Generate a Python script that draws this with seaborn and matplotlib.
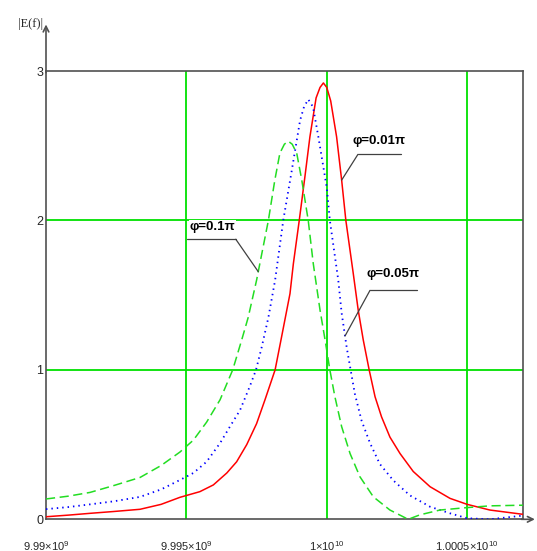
import numpy as np
import pandas as pd
import matplotlib
matplotlib.use("Agg")
import matplotlib.pyplot as plt
import seaborn as sns

# =========================
# Data
# frequency offsets in MHz from 9.99e9 Hz
# =========================

F0 = 9.99e9

red_off = [0.0, 0.8, 1.57, 2.4, 3.35, 4.1, 4.77, 5.48, 5.96, 6.44, 6.79,
           7.15, 7.50, 7.80, 8.16, 8.39, 8.69, 8.81, 9.02, 9.22, 9.40, 9.62,
           9.76, 9.88, 10.00, 10.14, 10.35, 10.53, 10.68, 10.94, 11.12, 11.30,
           11.51, 11.72, 11.95, 12.25, 12.61, 13.08, 13.68, 14.39, 15.00,
           15.81, 17.0]
red_y = [0.017, 0.028, 0.04, 0.052, 0.067, 0.10, 0.147, 0.185, 0.23, 0.31,
         0.385, 0.50, 0.64, 0.80, 1.0, 1.22, 1.51, 1.71, 2.0, 2.29, 2.56,
         2.82, 2.89, 2.92, 2.89, 2.80, 2.56, 2.27, 2.0, 1.65, 1.40, 1.20,
         1.0, 0.82, 0.686, 0.55, 0.44, 0.32, 0.218, 0.14, 0.10,
         0.062, 0.033]

blue_off = [0.0, 0.8, 1.57, 2.4, 3.35, 4.1, 4.77, 5.25, 5.72, 6.20, 6.55,
            6.91, 7.26, 7.48, 7.68, 7.92, 8.16, 8.45, 8.75, 9.05, 9.19, 9.34,
            9.51, 9.70, 10.00, 10.11, 10.41, 10.53, 10.71, 10.85, 11.00,
            11.24, 11.54, 11.89, 12.37, 12.96, 13.68, 14.39, 15.00, 15.81,
            17.0]
blue_y = [0.068, 0.082, 0.10, 0.12, 0.15, 0.20, 0.263, 0.31, 0.385, 0.51,
          0.62, 0.73, 0.89, 1.0, 1.15, 1.35, 1.60, 2.0, 2.33, 2.67, 2.76,
          2.81, 2.76, 2.56, 2.22, 2.0, 1.60, 1.38, 1.15, 1.0, 0.84,
          0.66, 0.51, 0.37, 0.26, 0.16, 0.084, 0.04, 0.007, 0.0,
          0.025]

green_off = [0.0, 0.8, 1.57, 2.4, 3.35, 4.1, 4.77, 5.25, 5.72, 6.20, 6.65,
             6.97, 7.20, 7.50, 7.92, 8.15, 8.33, 8.49, 8.63, 8.77, 8.93,
             9.11, 9.34, 9.52, 9.76, 9.94, 10.11, 10.29, 10.53, 10.83, 11.18,
             11.66, 12.25, 12.90, 13.32, 14.03, 14.98, 15.81, 16.88, 17.0]
green_y = [0.136, 0.155, 0.18, 0.225, 0.28, 0.36, 0.45, 0.53, 0.65, 0.80,
           1.0, 1.2, 1.35, 1.60, 2.0, 2.27, 2.45, 2.51, 2.53, 2.51, 2.45,
           2.27, 2.0, 1.71, 1.40, 1.20, 1.0, 0.82, 0.62, 0.44, 0.285,
           0.15, 0.062, 0.0, 0.03, 0.062, 0.078, 0.09, 0.094, 0.094]

labels = ["\u03c6=0.01\u03c0", "\u03c6=0.05\u03c0", "\u03c6=0.1\u03c0"]

x_ticks = [9.99e9, 9.995e9, 1e10, 1.0005e10]
x_ticklabels = ["$\\mathrm{9.99\u00d710^{9}}$", "$\\mathrm{9.995\u00d710^{9}}$",
                "$\\mathrm{1\u00d710^{10}}$", "$\\mathrm{1.0005\u00d710^{10}}$"]
y_ticks = [0, 1, 2, 3]


def to_frame(off, y, name):
    return pd.DataFrame({
        "f": [F0 + o * 1e6 for o in off],
        "E": y,
        "curve": name,
    })


red = to_frame(red_off, red_y, labels[0])
blue = to_frame(blue_off, blue_y, labels[1])
green = to_frame(green_off, green_y, labels[2])


# =========================
# Style
# =========================

sns.set_style("white")

FONT = ["Liberation Sans", "DejaVu Sans"]
plt.rcParams["font.family"] = FONT
plt.rcParams["mathtext.fontset"] = "custom"
plt.rcParams["mathtext.rm"] = "Liberation Sans"

AX_COL = "#505050"
GRID_COL = "#00e000"

fig = plt.figure(figsize=(5.37, 5.51), dpi=100)
ax = fig.add_axes([46 / 537, 1 - 519.3 / 551,
                   (523.3 - 46) / 537, (519.3 - 71) / 551])

# grid
for xv in x_ticks[1:]:
    ax.axvline(xv, color=GRID_COL, lw=1.3, zorder=1)
for yv in y_ticks[1:3]:
    ax.axhline(yv, color=GRID_COL, lw=1.3, zorder=1)


# =========================
# Curves
# =========================

sns.lineplot(data=red, x="f", y="E", color="#ff0000", lw=1.1,
             estimator=None, sort=False, ax=ax, zorder=3)

sns.lineplot(data=blue, x="f", y="E", color="#0000ff", lw=1.3,
             estimator=None, sort=False, ax=ax, zorder=3,
             linestyle=(0, (0.8, 2.2)))

sns.lineplot(data=green, x="f", y="E", color="#22dd22", lw=1.1,
             estimator=None, sort=False, ax=ax, zorder=3,
             linestyle=(0, (6, 3)))


# =========================
# Annotations
# =========================

def tag(text, tx, ty, ux0, ux1, uy, df, at, start_left=True, bg=False):
    # leader line ends on the curve at offset "at"
    px = F0 + at * 1e6
    py = np.interp(px, df["f"], df["E"])
    kw = dict(ha="center", va="center", fontsize=9.5, fontweight="bold",
              color="black", zorder=6, family=FONT)
    if bg:
        kw["bbox"] = dict(facecolor="white", edgecolor="none", pad=0.5)
    ax.text(F0 + tx * 1e6, ty, text, **kw)
    ax.plot([F0 + ux0 * 1e6, F0 + ux1 * 1e6], [uy, uy],
            color="#404040", lw=0.9, zorder=5)
    sx = ux0 if start_left else ux1
    ax.plot([F0 + sx * 1e6, px], [uy, py], color="#404040", lw=0.9, zorder=5)


tag(labels[0], 11.87, 2.53, 11.11, 12.63, 2.442, red, 10.53)
tag(labels[1], 12.35, 1.64, 11.54, 13.20, 1.532, blue, 10.65)
tag(labels[2], 5.92, 1.955, 5.03, 6.76, 1.874, green, 7.56,
    start_left=False, bg=True)


# =========================
# Axes
# =========================

ax.set_xlim(9.99e9, 1.0007e10)
ax.set_ylim(0, 3)

ax.set_xticks(x_ticks)
ax.set_xticklabels(x_ticklabels, fontsize=8)
ax.set_yticks(y_ticks)
ax.set_yticklabels([str(v) for v in y_ticks], fontsize=9)
ax.tick_params(axis="x", length=0, pad=14)
ax.tick_params(axis="y", length=0, pad=2)

ax.set_xlabel("")
ax.set_ylabel("")

for sp in ax.spines.values():
    sp.set_color(AX_COL)
    sp.set_linewidth(1.2)

ax.annotate("", xy=(0, 1.11), xytext=(0, 0.99), xycoords="axes fraction",
            arrowprops=dict(arrowstyle="->", color=AX_COL, lw=1.2))
ax.annotate("", xy=(1.03, 0), xytext=(0.99, 0), xycoords="axes fraction",
            arrowprops=dict(arrowstyle="->", color=AX_COL, lw=1.2))

ax.text(-0.005, 1.105, "|E(f)|", transform=ax.transAxes, ha="right",
        va="center", fontsize=9,
        family=["Liberation Serif", "DejaVu Serif"])

fig.savefig("out.png", dpi=100)
